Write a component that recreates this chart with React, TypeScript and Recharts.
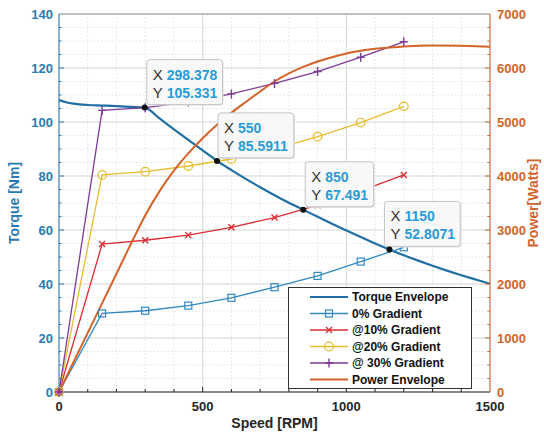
import { LineChart, Line, XAxis, YAxis, CartesianGrid, Legend } from 'recharts';

const FONT = '"Liberation Sans", Arial, Helvetica, sans-serif';
const LEFT_COLOR = '#2a7ab0';
const RIGHT_COLOR = '#d0652b';

// gradient test runs (rpm -> Nm)
const gradientSpeed = [0, 150, 300, 450, 600, 750, 900, 1050, 1200];
const torque0 = [0, 29.1, 30.1, 32.0, 34.9, 38.8, 43.0, 48.3, 53.6];
const torque10 = [0, 54.8, 56.2, 58.1, 61.0, 64.6, 69.2, 74.5, 80.4];
const torque20 = [0, 80.4, 81.6, 83.7, 86.3, 90.0, 94.6, 99.8, 105.8];
const torque30 = [0, 104.3, 105.3, 107.4, 110.4, 114.3, 118.7, 124.0, 129.7];

// torque envelope
const envelopeSpeed = [0, 25, 50, 100, 150, 200, 250, 298.378, 350, 400, 450, 500, 550, 600, 650, 700, 750, 800, 850, 900, 950, 1000, 1050, 1100, 1150, 1200, 1250, 1300, 1350, 1400, 1450, 1500];
const envelopeTorque = [108.1, 107.3, 106.8, 106.3, 106.1, 105.9, 105.6, 105.331, 101.3, 97.3, 93.4, 89.5, 85.5911, 82.2, 78.95, 75.85, 72.9, 70.1, 67.491, 64.89, 62.34, 59.84, 57.39, 55.04, 52.8071, 50.66, 48.66, 46.76, 44.96, 43.26, 41.66, 40.1];

// power envelope (W)
const powerSpeed = [0, 100, 200, 250, 300, 350, 400, 450, 500, 550, 600, 650, 700, 750, 800, 850, 900, 950, 1000, 1050, 1100, 1150, 1200, 1300, 1400, 1500];
const powerWatts = [0, 1095, 2190, 2740, 3270, 3720, 4100, 4420, 4700, 4950, 5170, 5370, 5565, 5750, 5900, 6020, 6120, 6200, 6270, 6320, 6355, 6380, 6400, 6415, 6410, 6395];

// data tips
const tipSpeed = [298.378, 550, 850, 1150];
const tipTorque = [105.331, 85.5911, 67.491, 52.8071];
const tipDx = [2, 1, 2, -5];

const xTicks = Array.from({ length: 16 }, (_, i) => i * 100);
const leftTicks = Array.from({ length: 29 }, (_, i) => i * 5);
const rightTicks = Array.from({ length: 29 }, (_, i) => i * 250);
const majorX = [0, 500, 1000, 1500];
const majorLeft = [0, 20, 40, 60, 80, 100, 120, 140];

const toPoints = (xs: number[], ys: number[]) => xs.map((x, i) => ({ x, y: ys[i] }));
const tipPoints = toPoints(tipSpeed, tipTorque);

const series = [
  { name: 'Torque Envelope', data: toPoints(envelopeSpeed, envelopeTorque), color: '#1f6fa5', width: 2.2, marker: 'none', axis: 'left' },
  { name: '0% Gradient', data: toPoints(gradientSpeed, torque0), color: '#3189c0', width: 1.3, marker: 'square', axis: 'left' },
  { name: '@10% Gradient', data: toPoints(gradientSpeed, torque10), color: '#d92f35', width: 1.3, marker: 'x', axis: 'left' },
  { name: '@20% Gradient', data: toPoints(gradientSpeed, torque20), color: '#e6bd2e', width: 1.3, marker: 'circle', axis: 'left' },
  { name: '@ 30% Gradient', data: toPoints(gradientSpeed, torque30), color: '#7d3b96', width: 1.3, marker: 'plus', axis: 'left' },
  { name: 'Power Envelope', data: toPoints(powerSpeed, powerWatts), color: '#d4632a', width: 2, marker: 'none', axis: 'right' },
];

function Marker({ kind, cx, cy, color }: { kind: string; cx: number; cy: number; color: string }) {
  if (kind === 'square') return <rect x={cx - 3.5} y={cy - 3.5} width={7} height={7} fill="none" stroke={color} strokeWidth={1.2} />;
  if (kind === 'circle') return <circle cx={cx} cy={cy} r={4.3} fill="none" stroke={color} strokeWidth={1.2} />;
  if (kind === 'x')
    return (
      <path d={`M${cx - 3} ${cy - 3}L${cx + 3} ${cy + 3}M${cx - 3} ${cy + 3}L${cx + 3} ${cy - 3}`} stroke={color} strokeWidth={1.4} />
    );
  if (kind === 'plus')
    return <path d={`M${cx - 4} ${cy}L${cx + 4} ${cy}M${cx} ${cy - 4.5}L${cx} ${cy + 4.5}`} stroke={color} strokeWidth={1.4} />;
  return null;
}

const dotFor = (kind: string, color: string) =>
  kind === 'none'
    ? false
    : (p: any) => (
        <g key={`m-${kind}-${p.index}`}>
          <Marker kind={kind} cx={p.cx} cy={p.cy} color={color} />
        </g>
      );

const BottomTick = (p: any) => {
  const v = p.payload.value;
  const major = majorX.includes(v);
  return (
    <g>
      {v > 0 && v < 1500 && <line x1={p.x} x2={p.x} y1={p.y} y2={p.y - (major ? 5 : 3)} stroke="#262626" />}
      {major && (
        <text x={p.x} y={p.y + 19} textAnchor="middle" fontFamily={FONT} fontWeight="bold" fontSize={13} fill="#262626">
          {v}
        </text>
      )}
    </g>
  );
};

const TopTick = (p: any) => {
  const v = p.payload.value;
  if (v === 0 || v === 1500) return <g />;
  return <line x1={p.x} x2={p.x} y1={p.y} y2={p.y + (majorX.includes(v) ? 5 : 3)} stroke="#8c8c8c" />;
};

const LeftTick = (p: any) => {
  const v = p.payload.value;
  const major = majorLeft.includes(v);
  return (
    <g>
      {v > 0 && v < 140 && <line x1={p.x} x2={p.x + (major ? 5 : 2.5)} y1={p.y} y2={p.y} stroke={LEFT_COLOR} />}
      {major && (
        <text x={p.x - 6} y={p.y + 4.6} textAnchor="end" fontFamily={FONT} fontWeight="bold" fontSize={13} fill={LEFT_COLOR}>
          {v}
        </text>
      )}
    </g>
  );
};

const RightTick = (p: any) => {
  const v = p.payload.value;
  const major = v % 1000 === 0;
  return (
    <g>
      {v > 0 && v < 7000 && <line x1={p.x} x2={p.x - (major ? 5 : 2.5)} y1={p.y} y2={p.y} stroke={RIGHT_COLOR} />}
      {major && (
        <text x={p.x + 7} y={p.y + 4.6} textAnchor="start" fontFamily={FONT} fontWeight="bold" fontSize={13} fill={RIGHT_COLOR}>
          {v}
        </text>
      )}
    </g>
  );
};

function DataTip({ cx, cy, sx, sy, dx }: { cx: number; cy: number; sx: number; sy: number; dx: number }) {
  const longest = Math.max(String(sx).length, String(sy).length);
  const w = 24 + longest * 7.4;
  const left = cx + dx;
  const top = cy - 48;
  return (
    <g>
      <rect x={left + 1} y={top + 1} width={w} height={45} rx={3} fill="#e4e4e4" />
      <rect x={left} y={top} width={w} height={45} rx={3} fill="#f8f8f8" stroke="#c4c4c4" />
      <text x={left + 6} y={top + 20} fontFamily={FONT} fontSize={15} fill="#333">
        X
        <tspan x={left + 20} fontWeight="bold" fontSize={14} fill="#2a9bd6">
          {sx}
        </tspan>
      </text>
      <text x={left + 6} y={top + 38} fontFamily={FONT} fontSize={15} fill="#333">
        Y
        <tspan x={left + 20} fontWeight="bold" fontSize={14} fill="#2a9bd6">
          {sy}
        </tspan>
      </text>
      <circle cx={cx} cy={cy} r={3} fill="#111" />
    </g>
  );
}

const tipDot = (p: any) => (
  <g key={`tip-${p.index}`}>
    <DataTip cx={p.cx} cy={p.cy} sx={p.payload.x} sy={p.payload.y} dx={tipDx[p.index]} />
  </g>
);

function LegendBox() {
  return (
    <svg width={184} height={102} style={{ display: 'block' }}>
      <rect x={0.5} y={0.5} width={183} height={101} fill="#fff" stroke="#333" />
      {series.map((s, i) => {
        const cy = 10 + i * 16.5;
        return (
          <g key={s.name}>
            <line x1={22} x2={60} y1={cy} y2={cy} stroke={s.color} strokeWidth={s.width} />
            <Marker kind={s.marker} cx={41} cy={cy} color={s.color} />
            <text x={64} y={cy + 4.3} fontFamily={FONT} fontWeight="bold" fontSize={12} fill="#111">
              {s.name}
            </text>
          </g>
        );
      })}
    </svg>
  );
}

export default function App() {
  return (
    <div style={{ position: 'absolute', left: 0, top: 0, background: '#fff' }}>
      <LineChart width={544} height={434} margin={{ top: 0, right: 0, bottom: 0, left: 0 }}>
        <CartesianGrid
          yAxisId="left"
          verticalValues={xTicks}
          horizontalValues={leftTicks}
          stroke="#e2e2e2"
          strokeDasharray="1.5 2"
        />
        <CartesianGrid yAxisId="left" verticalValues={majorX} horizontalValues={majorLeft} stroke="#dadada" />
        <XAxis
          type="number"
          dataKey="x"
          domain={[0, 1500]}
          ticks={xTicks}
          interval={0}
          tickSize={0}
          tickMargin={0}
          tick={BottomTick}
          height={42}
          axisLine={{ stroke: '#262626' }}
          label={{
            content: (p: any) => (
              <text
                x={p.viewBox.x + p.viewBox.width / 2}
                y={p.viewBox.y + 36}
                textAnchor="middle"
                fontFamily={FONT}
                fontWeight="bold"
                fontSize={14}
                fill="#262626"
              >
                Speed [RPM]
              </text>
            ),
          }}
        />
        <XAxis
          xAxisId="top"
          orientation="top"
          type="number"
          dataKey="x"
          domain={[0, 1500]}
          ticks={xTicks}
          interval={0}
          tickSize={0}
          tickMargin={0}
          tick={TopTick}
          height={14}
          axisLine={{ stroke: '#9a9a9a' }}
        />
        <YAxis
          yAxisId="left"
          type="number"
          domain={[0, 140]}
          ticks={leftTicks}
          interval={0}
          tickSize={0}
          tickMargin={0}
          tick={LeftTick}
          width={59}
          axisLine={{ stroke: LEFT_COLOR }}
          label={{
            content: (p: any) => (
              <text
                transform={`translate(19, ${p.viewBox.y + p.viewBox.height / 2}) rotate(-90)`}
                textAnchor="middle"
                fontFamily={FONT}
                fontWeight="bold"
                fontSize={14}
                fill={LEFT_COLOR}
              >
                Torque [Nm]
              </text>
            ),
          }}
        />
        <YAxis
          yAxisId="right"
          orientation="right"
          type="number"
          domain={[0, 7000]}
          ticks={rightTicks}
          interval={0}
          tickSize={0}
          tickMargin={0}
          tick={RightTick}
          width={54}
          axisLine={{ stroke: RIGHT_COLOR }}
          label={{
            content: (p: any) => (
              <text
                transform={`translate(${p.viewBox.x + 48}, ${p.viewBox.y + p.viewBox.height / 2}) rotate(-90)`}
                textAnchor="middle"
                fontFamily={FONT}
                fontWeight="bold"
                fontSize={14}
                fill={RIGHT_COLOR}
              >
                Power[Watts]
              </text>
            ),
          }}
        />
        {series.map((s) => (
          <Line
            key={s.name}
            name={s.name}
            data={s.data}
            dataKey="y"
            yAxisId={s.axis}
            type={s.marker === 'none' ? 'monotone' : 'linear'}
            stroke={s.color}
            strokeWidth={s.width}
            dot={dotFor(s.marker, s.color)}
            activeDot={false}
            isAnimationActive={false}
          />
        ))}
        <Line
          name="tips"
          data={tipPoints}
          dataKey="y"
          yAxisId="left"
          stroke="none"
          legendType="none"
          dot={tipDot}
          activeDot={false}
          isAnimationActive={false}
        />
        <Legend
          layout="horizontal"
          verticalAlign="middle"
          align="center"
          wrapperStyle={{ left: 288, top: 287, width: 184, height: 102 }}
          content={() => <LegendBox />}
        />
      </LineChart>
    </div>
  );
}
